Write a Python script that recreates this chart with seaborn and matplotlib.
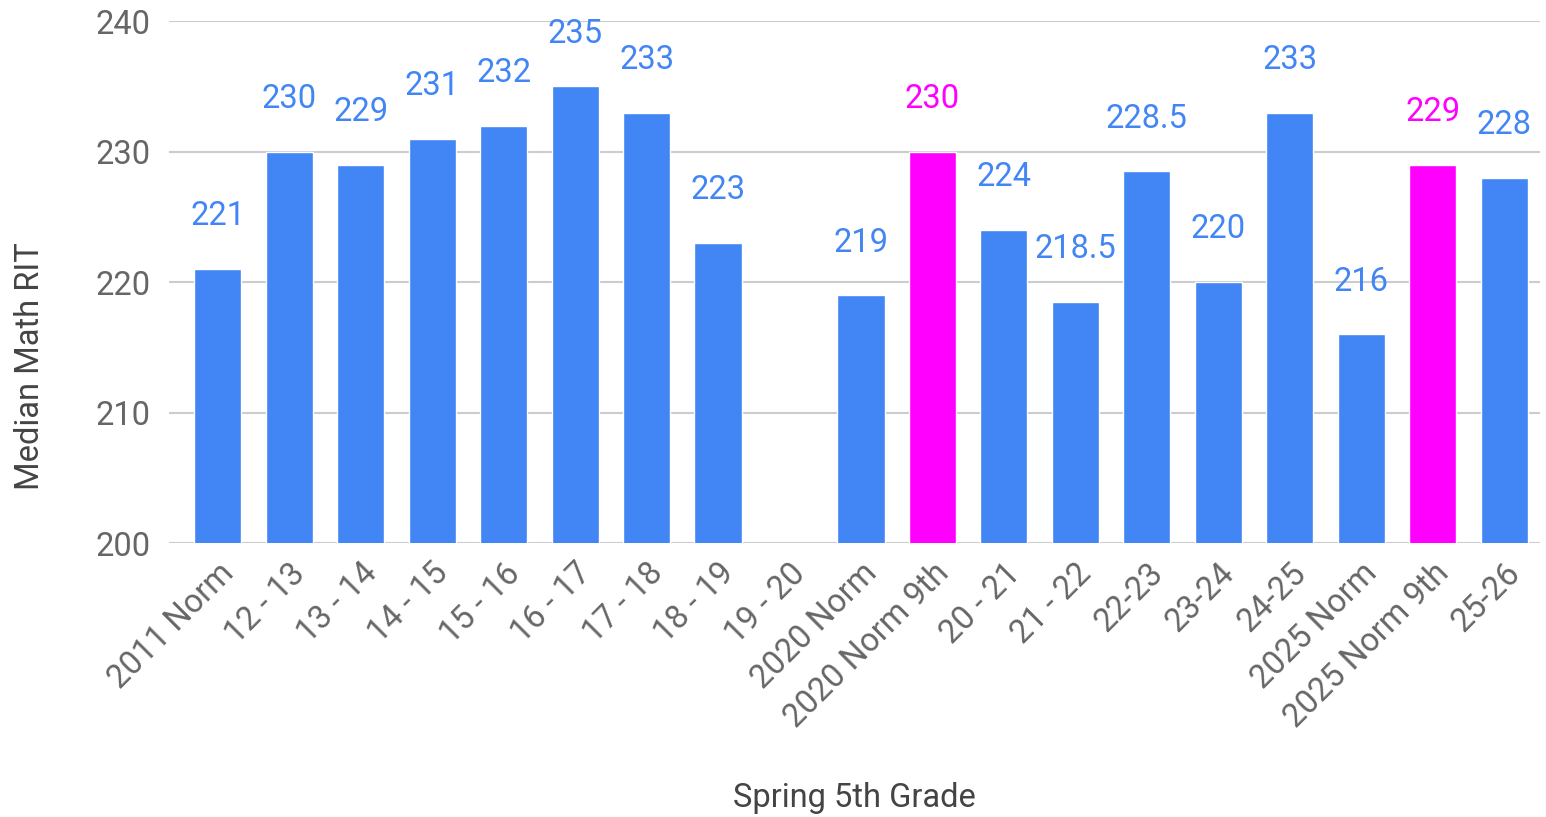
import numpy as np
import pandas as pd
import matplotlib.pyplot as plt
import seaborn as sns

categories = ['2011 Norm', '12 - 13', '13 - 14', '14 - 15', '15 - 16', '16 - 17',
              '17 - 18', '18 - 19', '19 - 20', '2020 Norm', '2020 Norm 9th',
              '20 - 21', '21 - 22', '22-23', '23-24', '24-25', '2025 Norm',
              '2025 Norm 9th', '25-26']
values = [221, 230, 229, 231, 232, 235, 233, 223, np.nan, 219, 230,
          224, 218.5, 228.5, 220, 233, 216, 229, 228]
groups = ['ninth' if c.endswith('9th') else 'main' for c in categories]

BLUE = '#4285F4'
PINK = '#FF00FF'
palette = {'main': BLUE, 'ninth': PINK}

df = pd.DataFrame({'period': categories, 'rit': values, 'group': groups})

sns.set_style('white')
plt.rcParams['font.family'] = ['Roboto', 'DejaVu Sans']
FS = 23.5

fig = plt.figure(figsize=(15.46, 8.17), dpi=100)
ax = fig.add_axes([0.109, 0.335, 0.887, 0.639])

sns.barplot(data=df, x='period', y='rit', hue='group', palette=palette,
            order=categories, dodge=False, width=0.66, legend=False,
            saturation=1, ax=ax, zorder=3)

# value labels sit a fixed distance above each bar
for i, (v, g) in enumerate(zip(values, groups)):
    if np.isnan(v):
        continue
    ax.annotate(f'{v:g}', (i, v), xytext=(0, 38), textcoords='offset points',
                ha='center', va='center', fontsize=FS, color=palette[g])

ax.set_ylim(200, 240)
ax.set_yticks([200, 210, 220, 230, 240])
ax.set_xlim(-0.69, 18.5)
ax.grid(axis='y', color='#cccccc', linewidth=1.5, zorder=0)
ax.set_axisbelow(True)
for s in ax.spines.values():
    s.set_visible(False)

ax.tick_params(axis='y', length=0, pad=13, labelsize=FS, labelcolor='#666666')
ax.tick_params(axis='x', length=0, pad=10, labelsize=FS, labelcolor='#666666')
plt.setp(ax.get_xticklabels(), rotation=45, ha='right', rotation_mode='anchor')

ax.set_ylabel('Median Math RIT', fontsize=FS, color='#444444')
ax.yaxis.set_label_coords(-0.089, 0.34)
ax.set_xlabel('Spring 5th Grade', fontsize=FS, color='#444444')
ax.xaxis.set_label_coords(0.5, -0.458)

fig.savefig('out.png', dpi=100)
